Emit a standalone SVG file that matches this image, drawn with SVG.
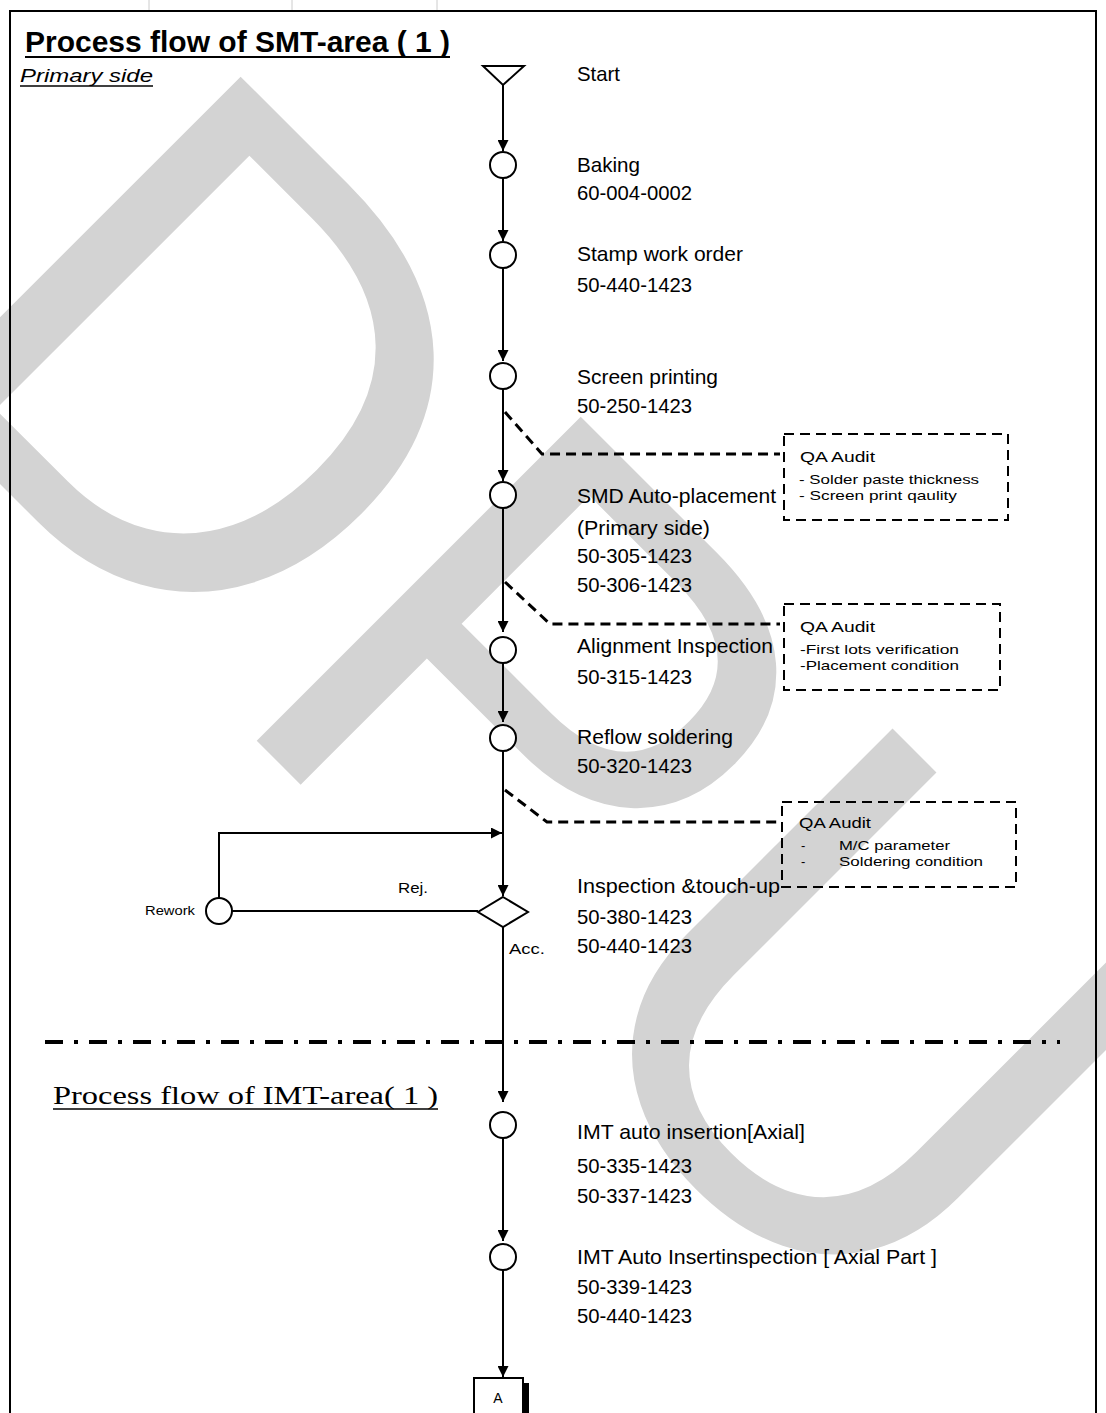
<svg xmlns="http://www.w3.org/2000/svg" width="1106" height="1413" viewBox="0 0 1106 1413">
<style>
.lbl{font-family:"Liberation Sans",Arial,sans-serif;font-size:21px;fill:#000}
.sm{font-family:"Liberation Sans",Arial,sans-serif;font-size:13px;fill:#000}
.qa{font-family:"Liberation Sans",Arial,sans-serif;font-size:14px;fill:#000}
.node{fill:#fff;stroke:#000;stroke-width:2}
.flow{stroke:#000;stroke-width:2;fill:none}
.dash{stroke:#000;stroke-width:3;stroke-dasharray:10 6;fill:none}
.box{stroke:#000;stroke-width:2;stroke-dasharray:10 6;fill:none}
</style>
<defs>
<marker id="ah" markerWidth="10" markerHeight="11" refX="11" refY="5.5" orient="auto" markerUnits="userSpaceOnUse">
<path d="M0,0 L11,5.5 L0,11 z" fill="#000"/>
</marker>
</defs>
<rect width="1106" height="1413" fill="#fff"/>
<g id="watermark">
<text x="-122" y="362" transform="rotate(45 -122 362)" font-family="Liberation Sans,Arial,sans-serif" font-size="666" fill="#d3d3d3">DPU</text>
</g>
<g id="frame">
<path d="M10,1413 V11 H1096 V1413" fill="none" stroke="#000" stroke-width="2"/>
<g stroke="#ccc" stroke-width="1"><line x1="149" y1="0" x2="149" y2="10"/><line x1="292" y1="0" x2="292" y2="10"/><line x1="437" y1="0" x2="437" y2="10"/></g>
</g>
<g id="titles">
<text x="25" y="52" font-family="Liberation Sans,Arial,sans-serif" font-size="29" font-weight="bold" textLength="425" lengthAdjust="spacingAndGlyphs">Process flow of SMT-area ( 1 )</text>
<line x1="25" y1="57" x2="450" y2="57" stroke="#000" stroke-width="2"/>
<text x="20" y="82" font-family="Liberation Sans,Arial,sans-serif" font-size="19" font-style="italic" textLength="133" lengthAdjust="spacingAndGlyphs">Primary  side</text>
<line x1="20" y1="86" x2="153" y2="86" stroke="#000" stroke-width="1.5"/>
<text x="53" y="1104" font-family="Liberation Serif,'Times New Roman',serif" font-size="26" textLength="385" lengthAdjust="spacingAndGlyphs">Process  flow  of  IMT-area( 1 )</text>
<line x1="53" y1="1109" x2="438" y2="1109" stroke="#000" stroke-width="1.5"/>
<line x1="45" y1="1042" x2="1060" y2="1042" stroke="#000" stroke-width="4" stroke-dasharray="18 11 4 11"/>
</g>
<g id="connectors">
<line class="flow" x1="503" y1="85" x2="503" y2="151" marker-end="url(#ah)"/>
<line class="flow" x1="503" y1="178" x2="503" y2="241" marker-end="url(#ah)"/>
<line class="flow" x1="503" y1="268" x2="503" y2="361" marker-end="url(#ah)"/>
<line class="flow" x1="503" y1="389" x2="503" y2="481" marker-end="url(#ah)"/>
<line class="flow" x1="503" y1="508" x2="503" y2="632" marker-end="url(#ah)"/>
<line class="flow" x1="503" y1="663" x2="503" y2="722" marker-end="url(#ah)"/>
<line class="flow" x1="503" y1="751" x2="503" y2="896" marker-end="url(#ah)"/>
<line class="flow" x1="503" y1="927" x2="503" y2="1102" marker-end="url(#ah)"/>
<line class="flow" x1="503" y1="1138" x2="503" y2="1241" marker-end="url(#ah)"/>
<line class="flow" x1="503" y1="1270" x2="503" y2="1377" marker-end="url(#ah)"/>
<line class="flow" x1="478" y1="911" x2="232" y2="911"/>
<path class="flow" d="M219,898 V833 H502" marker-end="url(#ah)"/>
<path class="dash" d="M505,412 L542,454 H780"/>
<path class="dash" d="M505,582 L550,624 H780"/>
<path class="dash" d="M505,790 L547,822 H778"/>
</g>
<g id="n-start"><polygon class="node" points="483,66 524,66 503,85"/><text class="lbl" x="577" y="81" textLength="43" lengthAdjust="spacingAndGlyphs">Start</text></g>
<g id="n-baking"><circle class="node" cx="503" cy="165" r="13"/><text class="lbl" x="577" y="172" textLength="63" lengthAdjust="spacingAndGlyphs">Baking</text><text class="lbl" x="577" y="200" textLength="115" lengthAdjust="spacingAndGlyphs">60-004-0002</text></g>
<g id="n-stamp"><circle class="node" cx="503" cy="255" r="13"/><text class="lbl" x="577" y="261" textLength="166" lengthAdjust="spacingAndGlyphs">Stamp work order</text><text class="lbl" x="577" y="292" textLength="115" lengthAdjust="spacingAndGlyphs">50-440-1423</text></g>
<g id="n-screen"><circle class="node" cx="503" cy="376" r="13"/><text class="lbl" x="577" y="384" textLength="141" lengthAdjust="spacingAndGlyphs">Screen printing</text><text class="lbl" x="577" y="413" textLength="115" lengthAdjust="spacingAndGlyphs">50-250-1423</text></g>
<g id="n-smd"><circle class="node" cx="503" cy="495" r="13"/><text class="lbl" x="577" y="503" textLength="199" lengthAdjust="spacingAndGlyphs">SMD Auto-placement</text><text class="lbl" x="577" y="535" textLength="133" lengthAdjust="spacingAndGlyphs">(Primary side)</text><text class="lbl" x="577" y="563" textLength="115" lengthAdjust="spacingAndGlyphs">50-305-1423</text><text class="lbl" x="577" y="592" textLength="115" lengthAdjust="spacingAndGlyphs">50-306-1423</text></g>
<g id="n-align"><circle class="node" cx="503" cy="650" r="13"/><text class="lbl" x="577" y="653" textLength="196" lengthAdjust="spacingAndGlyphs">Alignment Inspection</text><text class="lbl" x="577" y="684" textLength="115" lengthAdjust="spacingAndGlyphs">50-315-1423</text></g>
<g id="n-reflow"><circle class="node" cx="503" cy="738" r="13"/><text class="lbl" x="577" y="744" textLength="156" lengthAdjust="spacingAndGlyphs">Reflow soldering</text><text class="lbl" x="577" y="773" textLength="115" lengthAdjust="spacingAndGlyphs">50-320-1423</text></g>
<g id="n-inspect"><polygon class="node" points="503,897 528,912 503,927 478,912"/><text class="lbl" x="577" y="893" textLength="203" lengthAdjust="spacingAndGlyphs">Inspection &amp;touch-up</text><text class="lbl" x="577" y="924" textLength="115" lengthAdjust="spacingAndGlyphs">50-380-1423</text><text class="lbl" x="577" y="953" textLength="115" lengthAdjust="spacingAndGlyphs">50-440-1423</text><text x="398" y="893" font-family="Liberation Sans,Arial,sans-serif" font-size="15" textLength="30" lengthAdjust="spacingAndGlyphs">Rej.</text><text x="509" y="954" font-family="Liberation Sans,Arial,sans-serif" font-size="15" textLength="36" lengthAdjust="spacingAndGlyphs">Acc.</text></g>
<g id="n-rework"><circle class="node" cx="219" cy="911" r="13"/><text x="145" y="915" font-family="Liberation Sans,Arial,sans-serif" font-size="12" textLength="50" lengthAdjust="spacingAndGlyphs">Rework</text></g>
<g id="qa1"><rect class="box" x="784" y="434" width="224" height="86"/><text class="qa" x="800" y="462" textLength="75" lengthAdjust="spacingAndGlyphs">QA Audit</text><text class="sm" x="799" y="484" textLength="180" lengthAdjust="spacingAndGlyphs">- Solder paste thickness</text><text class="sm" x="799" y="500" textLength="158" lengthAdjust="spacingAndGlyphs">- Screen print qaulity</text></g>
<g id="qa2"><rect class="box" x="784" y="604" width="216" height="86"/><text class="qa" x="800" y="632" textLength="75" lengthAdjust="spacingAndGlyphs">QA Audit</text><text class="sm" x="800" y="654" textLength="159" lengthAdjust="spacingAndGlyphs">-First lots verification</text><text class="sm" x="800" y="670" textLength="159" lengthAdjust="spacingAndGlyphs">-Placement condition</text></g>
<g id="qa3"><rect class="box" x="782" y="802" width="234" height="85"/><text class="qa" x="799" y="828" textLength="72" lengthAdjust="spacingAndGlyphs">QA Audit</text><text class="sm" x="801" y="850">-</text><text class="sm" x="839" y="850" textLength="111" lengthAdjust="spacingAndGlyphs">M/C parameter</text><text class="sm" x="801" y="866">-</text><text class="sm" x="839" y="866" textLength="144" lengthAdjust="spacingAndGlyphs">Soldering condition</text></g>
<g id="n-imt1"><circle class="node" cx="503" cy="1125" r="13"/><text class="lbl" x="577" y="1139" textLength="228" lengthAdjust="spacingAndGlyphs">IMT auto insertion[Axial]</text><text class="lbl" x="577" y="1173" textLength="115" lengthAdjust="spacingAndGlyphs">50-335-1423</text><text class="lbl" x="577" y="1203" textLength="115" lengthAdjust="spacingAndGlyphs">50-337-1423</text></g>
<g id="n-imt2"><circle class="node" cx="503" cy="1257" r="13"/><text class="lbl" x="577" y="1264" textLength="360" lengthAdjust="spacingAndGlyphs">IMT Auto Insertinspection [ Axial Part ]</text><text class="lbl" x="577" y="1294" textLength="115" lengthAdjust="spacingAndGlyphs">50-339-1423</text><text class="lbl" x="577" y="1323" textLength="115" lengthAdjust="spacingAndGlyphs">50-440-1423</text></g>
<g id="n-a"><rect x="523" y="1383" width="6" height="32" fill="#000"/><rect class="node" x="474" y="1378" width="49" height="40"/><text x="498" y="1403" text-anchor="middle" font-family="Liberation Sans,Arial,sans-serif" font-size="14">A</text></g>
</svg>
